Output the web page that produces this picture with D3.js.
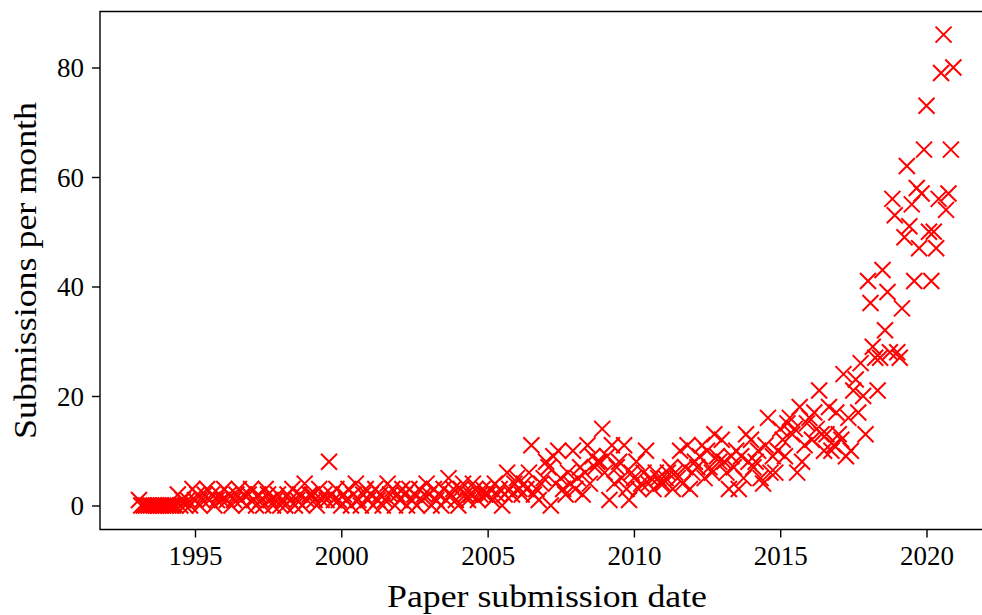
<!DOCTYPE html>
<html>
<head>
<meta charset="utf-8">
<script src="https://cdn.jsdelivr.net/npm/d3@7"></script>
<style>
  html, body { margin: 0; padding: 0; background: #fff; }
  svg { display: block; }
  text { font-family: "Liberation Serif", "Times New Roman", serif; fill: #000; }
</style>
</head>
<body>
<svg id="chart" width="982" height="615"></svg>
<script>
// ---- data (monthly submissions, Feb 1993 .. Dec 2020) ----
const startYear = 1993;
const startMonth = 1; // February (0-based)
const y1993 = [1,0,0,0,0,0,0,0,0,0,0];
const y1994 = [0,0,0,0,0,2,0,1,0,1,0,3];
const y1995 = [1,2,0,1,2,3,1,2,0,1,2,1];
const y1996 = [3,1,2,0,1,2,3,1,2,0,2,3];
const y1997 = [1,0,2,1,0,3,2,1,0,1,2,0];
const y1998 = [1,0,2,1,3,0,1,2,0,4,1,2];
const y1999 = [2,1,0,3,1,2,1,8,2,1,3,1];
const y2000 = [0,2,1,3,0,2,4,1,0,2,3,1];
const y2001 = [2,0,3,1,2,0,1,4,2,3,0,2];
const y2002 = [1,3,2,0,3,1,2,0,3,1,2,4];
const y2003 = [2,0,3,1,2,0,3,1,5,2,3,1];
const y2004 = [0,3,4,2,1,2,4,3,1,2,3,2];
const y2005 = [2,3,1,4,2,3,0,2,6,3,2,4];
const y2006 = [5,3,2,4,3,6,11,2,3,1,4,5];
const y2007 = [8,7,0,9,4,10,5,3,2,6,4,10];
const y2008 = [3,5,7,2,6,11,4,9,7,8,8,14];
const y2009 = [6,9,1,11,4,7,8,5,11,3,1,6];
const y2010 = [5,8,3,4,6,10,4,5,3,6,5,4];
const y2011 = [4,5,6,7,3,6,5,10,4,7,11,3];
const y2012 = [6,8,7,9,11,5,10,7,6,13,9,8];
const y2013 = [12,8,6,3,9,7,10,3,9,5,13,8];
const y2014 = [12,7,8,10,5,4,11,16,6,9,6,10];
const y2015 = [14,12,9,15,16,13,14,6,18,8,11,15];
const y2016 = [16,12,17,14,21,13,10,13,18,10,11,17];
const y2017 = [13,12,24,9,16,10,21,23,17,26,20,13];
const y2018 = [41,37,29,27,21,27,43,32,39,28,56,53];
const y2019 = [28,27,36,49,62,51,55,41,58,47,57,65];
const y2020 = [73,50,41,50,47,56,79,86,54,57,65,80];

const xTickYears = [1995, 2000, 2005, 2010, 2015, 2020];
const yTickValues = [0, 20, 40, 60, 80];
const xLabel = "Paper submission date";
const yLabel = "Submissions per month";

const counts = [].concat(y1993, y1994, y1995, y1996, y1997, y1998, y1999,
  y2000, y2001, y2002, y2003, y2004, y2005, y2006, y2007, y2008, y2009,
  y2010, y2011, y2012, y2013, y2014, y2015, y2016, y2017, y2018, y2019, y2020);
const data = counts.map((v, i) => ({ date: new Date(startYear, startMonth + i, 1), value: v }));

// ---- layout ----
const svg = d3.select("#chart");
const padL = 100, padT = 11.5, padB = 529.5, edgeR = 994;

const x = d3.scaleTime()
  .domain([new Date(1995, 0, 1), new Date(2020, 0, 1)])
  .range([195, 926.5]);
const y = d3.scaleLinear()
  .domain([0, 80])
  .range([505.5, 67.5]);

// points
const s = 8;
svg.append("g").selectAll("path.pt")
  .data(data)
  .join("path")
  .attr("class", "pt")
  .attr("transform", d => `translate(${x(d.date)},${y(d.value)})`)
  .attr("d", `M${-s},${-s}L${s},${s}M${-s},${s}L${s},${-s}`)
  .attr("fill", "none")
  .attr("stroke", "#ff0000")
  .attr("stroke-width", 2);

// axes
const xAxis = d3.axisBottom(x)
  .tickValues(xTickYears.map(yr => new Date(yr, 0, 1)))
  .tickFormat(d3.timeFormat("%Y"))
  .tickSize(8).tickSizeOuter(0).tickPadding(8);
const yAxis = d3.axisLeft(y)
  .tickValues(yTickValues)
  .tickSize(8).tickSizeOuter(0).tickPadding(8);

const gx = svg.append("g").attr("transform", `translate(0,${padB})`).call(xAxis);
const gy = svg.append("g").attr("transform", `translate(${padL},0)`).call(yAxis);
[gx, gy].forEach(ax => {
  ax.select(".domain").remove();
  ax.selectAll(".tick line").attr("stroke", "#000").attr("stroke-width", 1.4);
  ax.selectAll(".tick text")
    .attr("font-family", "Liberation Serif, serif")
    .attr("font-size", 27)
    .attr("fill", "#000");
});
gx.selectAll(".tick text").attr("y", 35.5).attr("dy", null);
gy.selectAll(".tick text").attr("dy", "0.34em");

// spines (left, bottom, top; right is beyond the picture)
svg.append("path")
  .attr("d", `M${edgeR},${padT}H${padL}V${padB}H${edgeR}`)
  .attr("fill", "none")
  .attr("stroke", "#000")
  .attr("stroke-width", 1.4);

// labels
svg.append("text")
  .attr("x", (padL + edgeR) / 2)
  .attr("y", 607)
  .attr("text-anchor", "middle")
  .attr("font-size", 32)
  .attr("textLength", 320)
  .attr("lengthAdjust", "spacingAndGlyphs")
  .text(xLabel);
svg.append("text")
  .attr("transform", `translate(36,${(padT + padB) / 2}) rotate(-90)`)
  .attr("text-anchor", "middle")
  .attr("font-size", 32)
  .attr("textLength", 337)
  .attr("lengthAdjust", "spacingAndGlyphs")
  .text(yLabel);
</script>
</body>
</html>
